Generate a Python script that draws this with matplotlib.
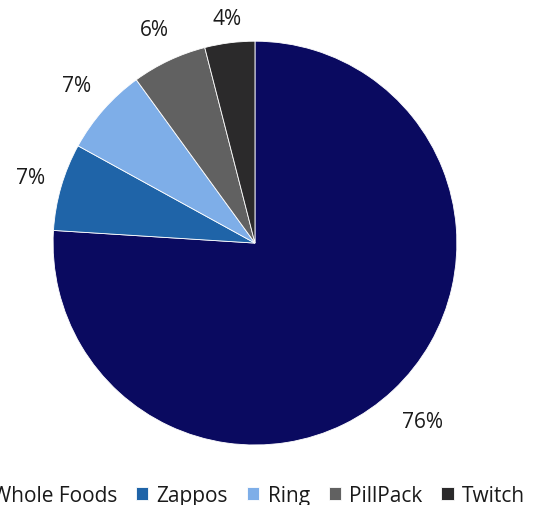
import matplotlib.pyplot as plt
import numpy as np

# data
labels = ["Whole Foods", "Zappos", "Ring", "PillPack", "Twitch"]
shares = [76, 7, 7, 6, 4]
colors = ["#0a0a60", "#1f64a8", "#7eaee8", "#616161", "#2b2a2b"]

plt.rcParams['font.family'] = ['Open Sans', 'DejaVu Sans']

fig = plt.figure(figsize=(5.44, 5.06), dpi=100)
ax = fig.add_axes([0.0974, 0.1186, 0.7426, 0.798])

wedges, texts = ax.pie(shares, colors=colors, startangle=90, counterclock=False,
                       wedgeprops=dict(edgecolor="white", linewidth=0.6))

# percentage labels outside the pie (distances tuned per slice like excel's best fit)
label_r = [1.21, 1.16, 1.18, 1.17, 1.12]
total = sum(shares)
angle = 90.0
for s, r in zip(shares, label_r):
    mid = angle - s / total * 360 / 2
    angle -= s / total * 360
    ax.text(r * np.cos(np.radians(mid)), r * np.sin(np.radians(mid)),
            "%d%%" % round(s / total * 100), ha="center", va="center",
            fontsize=15, color="#1a1a1a")

ax.set_xlim(-1, 1)
ax.set_ylim(-1, 1)
ax.set_aspect("equal")

fig.legend(wedges, labels, loc="center", bbox_to_anchor=(0.456, 0.019),
           ncol=5, frameon=False, fontsize=15, handlelength=0.6,
           handleheight=0.6, handletextpad=0.4, columnspacing=0.9,
           labelcolor="#1a1a1a")

fig.savefig("out.png", dpi=100)
